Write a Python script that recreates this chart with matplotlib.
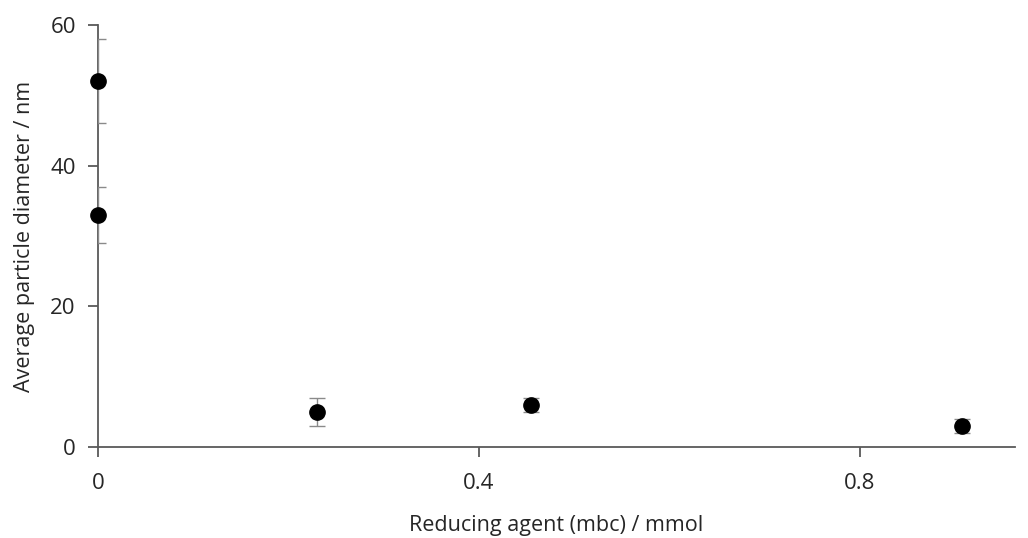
import matplotlib.pyplot as plt

# data
agent_mmol = [0.0, 0.0, 0.23, 0.455, 0.907]
diameter_nm = [52, 33, 5, 6, 3]
diameter_err = [6, 4, 2, 1, 1]

plt.rcParams['font.family'] = ['Open Sans', 'DejaVu Sans']

fig = plt.figure(figsize=(10.28, 5.38), dpi=100)
ax = fig.add_axes([98 / 1028, 1 - 447 / 538, (1015 - 98) / 1028, (447 - 25) / 538])

axis_col = '#595959'
text_col = '#262626'

# error bars clipped by the axes (caps only show right of the y axis),
# markers drawn on top unclipped
ax.errorbar(agent_mmol, diameter_nm, yerr=diameter_err, fmt='none',
            ecolor='#8a8a8a', elinewidth=1, capsize=5.5, capthick=1, zorder=3)
ax.plot(agent_mmol, diameter_nm, 'o', color='black', markersize=11,
        clip_on=False, zorder=4)

ax.set_xlim(0, 0.963)
ax.set_ylim(0, 60)
ax.set_xticks([0, 0.4, 0.8])
ax.set_xticklabels(['0', '0.4', '0.8'])
ax.set_yticks([0, 20, 40, 60])

for side in ['top', 'right']:
    ax.spines[side].set_visible(False)
for side in ['left', 'bottom']:
    ax.spines[side].set_color(axis_col)
    ax.spines[side].set_linewidth(1.3)

ax.tick_params(axis='both', direction='out', length=7, width=1.3,
               color=axis_col, labelsize=16, labelcolor=text_col)
ax.tick_params(axis='x', pad=12)
ax.tick_params(axis='y', pad=9)

ax.set_xlabel('Reducing agent (mbc) / mmol', fontsize=15.5, color=text_col, labelpad=15)
ax.set_ylabel('Average particle diameter / nm', fontsize=15.5, color=text_col, labelpad=11)

fig.savefig('out.png', dpi=100)
